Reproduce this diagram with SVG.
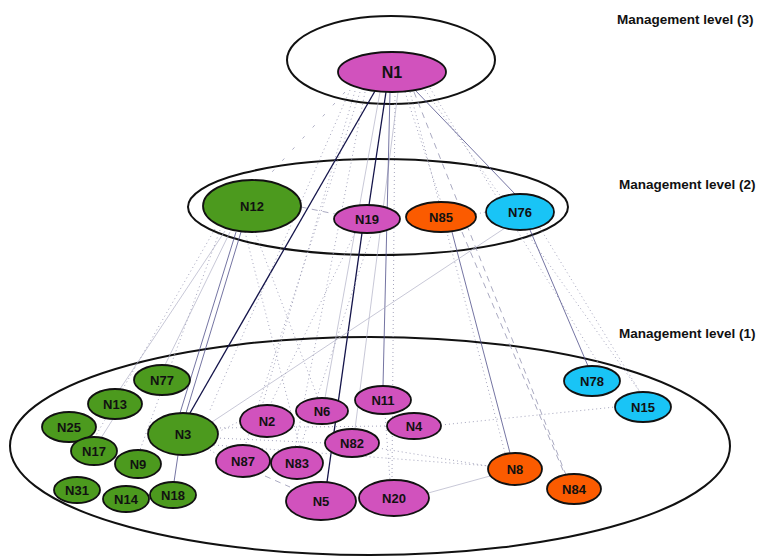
<svg xmlns="http://www.w3.org/2000/svg" width="759" height="556" viewBox="0 0 759 556">
<style>
.lvl{fill:none;stroke:#111;stroke-width:2}
.nd{stroke:#111;stroke-width:1.8}
.g{fill:#4c9a1e}.m{fill:#d152bd}.o{fill:#fb5b00}.c{fill:#19c4f6}
.t{font-family:"Liberation Sans",Arial,sans-serif;font-weight:bold;font-size:13px;fill:#111;text-anchor:middle;dominant-baseline:central}
.lab{font-family:"Liberation Sans",Arial,sans-serif;font-weight:bold;font-size:13.5px;fill:#111}
.dk{stroke:#14144a;stroke-width:1.3;fill:none}
.nv{stroke:#50508a;stroke-width:0.8;fill:none}
.lt{stroke:#b0b0c6;stroke-width:0.7;fill:none}
.dt{stroke:#9a9ab4;stroke-width:0.9;stroke-dasharray:1 3;fill:none}
.ds{stroke:#a0a0ba;stroke-width:0.9;stroke-dasharray:6 5;fill:none}
.ls{stroke:#b0b0c6;stroke-width:1;stroke-dasharray:3 12;fill:none}
</style>
<rect width="759" height="556" fill="#fff"/>
<g id="levels">
<ellipse class="lvl" cx="391" cy="60" rx="104" ry="44"/>
<ellipse class="lvl" cx="378" cy="207" rx="190" ry="48"/>
<ellipse class="lvl" cx="370" cy="446" rx="360" ry="109"/>
</g>
<g id="connectors">
<line class="ls" x1="345" y1="92" x2="262" y2="183"/>
<line class="dt" x1="350" y1="90" x2="210" y2="410"/>
<line class="dt" x1="355" y1="91" x2="262" y2="406"/>
<line class="dt" x1="360" y1="92" x2="245" y2="446"/>
<line class="dt" x1="365" y1="92" x2="295" y2="448"/>
<line class="dt" x1="395" y1="92" x2="392" y2="480"/>
<line class="dt" x1="405" y1="92" x2="441" y2="202"/>
<line class="dt" x1="410" y1="92" x2="505" y2="453"/>
<line class="ds" x1="414" y1="92" x2="566" y2="475"/>
<line class="dt" x1="425" y1="90" x2="640" y2="392"/>
<line class="dt" x1="430" y1="88" x2="600" y2="366"/>
<line class="lt" x1="398" y1="92" x2="355" y2="429"/>
<line class="lt" x1="380" y1="92" x2="325" y2="398"/>
<line class="dk" x1="375" y1="91" x2="190" y2="413"/>
<line class="dk" x1="386" y1="92" x2="369" y2="205"/>
<line class="dk" x1="362" y1="233" x2="327" y2="482"/>
<line class="nv" x1="415" y1="90" x2="515" y2="194"/>
<line class="nv" x1="390" y1="92" x2="383" y2="386"/>
<line class="nv" x1="452" y1="232" x2="510" y2="453"/>
<line class="nv" x1="530" y1="230" x2="588" y2="366"/>
<line class="nv" x1="178" y1="455" x2="174" y2="482"/>
<line class="nv" x1="236" y1="232" x2="180" y2="413"/>
<line class="nv" x1="241" y1="232" x2="186" y2="413"/>
<line class="lt" x1="230" y1="232" x2="165" y2="365"/>
<line class="lt" x1="225" y1="231" x2="120" y2="389"/>
<line class="lt" x1="113" y1="419" x2="101" y2="438"/>
<line class="lt" x1="505" y1="228" x2="212" y2="422"/>
<line class="dt" x1="220" y1="230" x2="140" y2="450"/>
<line class="dt" x1="215" y1="229" x2="95" y2="437"/>
<line class="dt" x1="245" y1="232" x2="300" y2="448"/>
<line class="dt" x1="255" y1="232" x2="330" y2="430"/>
<line class="ds" x1="301" y1="207" x2="335" y2="214"/>
<line class="dt" x1="476" y1="214" x2="486" y2="212"/>
<line class="dt" x1="540" y1="228" x2="640" y2="392"/>
<line class="ds" x1="462" y1="232" x2="565" y2="475"/>
<line class="dt" x1="355" y1="233" x2="270" y2="405"/>
<line class="dt" x1="372" y1="233" x2="300" y2="448"/>
<line class="dt" x1="218" y1="432" x2="240" y2="421"/>
<line class="dt" x1="216" y1="438" x2="325" y2="443"/>
<line class="dt" x1="216" y1="428" x2="387" y2="426"/>
<line class="dt" x1="214" y1="445" x2="490" y2="466"/>
<line class="dt" x1="210" y1="450" x2="218" y2="455"/>
<line class="dt" x1="441" y1="425" x2="615" y2="407"/>
<line class="dt" x1="378" y1="448" x2="488" y2="466"/>
<line class="dt" x1="385" y1="414" x2="390" y2="480"/>
<line class="ds" x1="265" y1="476" x2="290" y2="487"/>
<line class="lt" x1="410" y1="498" x2="490" y2="476"/>
</g>
<g id="N1"><ellipse class="nd m" cx="392" cy="72" rx="54" ry="20"/><text class="t" x="392" y="72" style="font-size:16px">N1</text></g>
<g id="N12"><ellipse class="nd g" cx="252" cy="206" rx="49" ry="26"/><text class="t" x="252" y="206">N12</text></g>
<g id="N19"><ellipse class="nd m" cx="367" cy="219" rx="33" ry="14"/><text class="t" x="367" y="219">N19</text></g>
<g id="N85"><ellipse class="nd o" cx="441" cy="217" rx="35" ry="15"/><text class="t" x="441" y="217">N85</text></g>
<g id="N76"><ellipse class="nd c" cx="520" cy="212" rx="34" ry="18"/><text class="t" x="520" y="212">N76</text></g>
<g id="N77"><ellipse class="nd g" cx="162" cy="380" rx="28" ry="15"/><text class="t" x="162" y="380">N77</text></g>
<g id="N13"><ellipse class="nd g" cx="115" cy="404" rx="27" ry="15"/><text class="t" x="115" y="404">N13</text></g>
<g id="N25"><ellipse class="nd g" cx="69" cy="427" rx="27" ry="15"/><text class="t" x="69" y="427">N25</text></g>
<g id="N3"><ellipse class="nd g" cx="183" cy="434" rx="35" ry="21"/><text class="t" x="183" y="434">N3</text></g>
<g id="N17"><ellipse class="nd g" cx="94" cy="451" rx="23" ry="14"/><text class="t" x="94" y="451">N17</text></g>
<g id="N9"><ellipse class="nd g" cx="138" cy="464" rx="23" ry="14"/><text class="t" x="138" y="464">N9</text></g>
<g id="N31"><ellipse class="nd g" cx="77" cy="490" rx="23" ry="13"/><text class="t" x="77" y="490">N31</text></g>
<g id="N14"><ellipse class="nd g" cx="126" cy="499" rx="23" ry="13"/><text class="t" x="126" y="499">N14</text></g>
<g id="N18"><ellipse class="nd g" cx="173" cy="495" rx="23" ry="13"/><text class="t" x="173" y="495">N18</text></g>
<g id="N2"><ellipse class="nd m" cx="267" cy="421" rx="27" ry="16"/><text class="t" x="267" y="421">N2</text></g>
<g id="N6"><ellipse class="nd m" cx="322" cy="411" rx="26" ry="13"/><text class="t" x="322" y="411">N6</text></g>
<g id="N11"><ellipse class="nd m" cx="383" cy="400" rx="28" ry="14"/><text class="t" x="383" y="400">N11</text></g>
<g id="N4"><ellipse class="nd m" cx="414" cy="426" rx="27" ry="13"/><text class="t" x="414" y="426">N4</text></g>
<g id="N82"><ellipse class="nd m" cx="352" cy="443" rx="27" ry="14"/><text class="t" x="352" y="443">N82</text></g>
<g id="N87"><ellipse class="nd m" cx="243" cy="461" rx="27" ry="16"/><text class="t" x="243" y="461">N87</text></g>
<g id="N83"><ellipse class="nd m" cx="297" cy="463" rx="26" ry="16"/><text class="t" x="297" y="463">N83</text></g>
<g id="N5"><ellipse class="nd m" cx="321" cy="501" rx="35" ry="19"/><text class="t" x="321" y="501">N5</text></g>
<g id="N20"><ellipse class="nd m" cx="394" cy="498" rx="35" ry="18"/><text class="t" x="394" y="498">N20</text></g>
<g id="N78"><ellipse class="nd c" cx="592" cy="381" rx="28" ry="15"/><text class="t" x="592" y="381">N78</text></g>
<g id="N15"><ellipse class="nd c" cx="643" cy="407" rx="28" ry="15"/><text class="t" x="643" y="407">N15</text></g>
<g id="N8"><ellipse class="nd o" cx="515" cy="469" rx="27" ry="16"/><text class="t" x="515" y="469">N8</text></g>
<g id="N84"><ellipse class="nd o" cx="574" cy="489" rx="27" ry="15"/><text class="t" x="574" y="489">N84</text></g>
<g id="labels">
<text class="lab" x="617" y="24">Management level (3)</text>
<text class="lab" x="619" y="189">Management level (2)</text>
<text class="lab" x="619" y="338">Management level (1)</text>
</g>
</svg>
